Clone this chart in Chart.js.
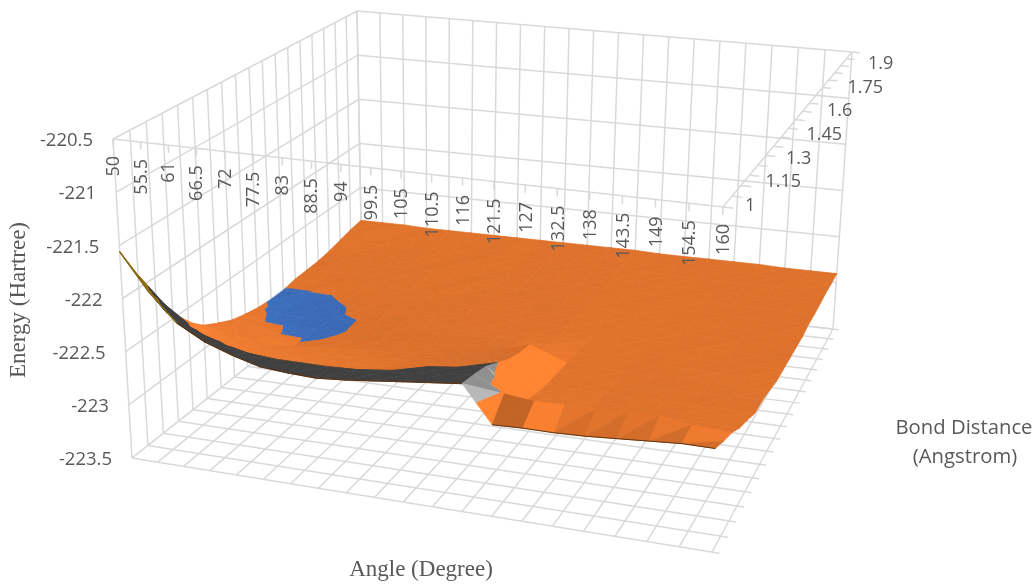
<!DOCTYPE html>
<html lang="en">
<head>
<meta charset="UTF-8">
<title>Energy surface</title>
<style>
    body { margin: 0; background: #fff; }
    #wrap { width: 1036px; height: 584px; }
</style>
<script src="https://cdn.jsdelivr.net/npm/chart.js"></script>
</head>
<body>
<div id="wrap"><canvas id="surface" width="1036" height="584"></canvas></div>
<script>
const angleLabels = ['50','55.5','61','66.5','72','77.5','83','88.5','94','99.5','105','110.5','116','121.5','127','132.5','138','143.5','149','154.5','160'];
const distanceValues = [1,1.05,1.1,1.15,1.2,1.25,1.3,1.35,1.4,1.45,1.5,1.55,1.6,1.65,1.7,1.75,1.8,1.85,1.9];
const distanceLabels = ['1','1.15','1.3','1.45','1.6','1.75','1.9'];
const energyTicks = [-223.5,-223,-222.5,-222,-221.5,-221,-220.5];

// energy (Hartree) per bond distance, one value per angle
const d100 = [-221.56,-221.90,-222.16,-222.30,-222.39,-222.46,-222.48,-222.49,-222.47,-222.44,-222.41,-222.38,-222.35,-222.68,-222.67,-222.67,-222.66,-222.64,-222.62,-222.60,-222.60];
const d105 = [-221.88,-222.20,-222.34,-222.43,-222.48,-222.50,-222.50,-222.50,-222.49,-222.47,-222.45,-222.42,-222.38,-222.52,-222.55,-222.54,-222.54,-222.53,-222.52,-222.56,-222.66];
const d110 = [-222.19,-222.42,-222.52,-222.58,-222.62,-222.64,-222.64,-222.63,-222.60,-222.55,-222.50,-222.47,-222.42,-222.70,-222.72,-222.74,-222.76,-222.76,-222.76,-222.74,-222.71];
const d115 = [-222.45,-222.60,-222.66,-222.70,-222.72,-222.74,-222.74,-222.73,-222.70,-222.66,-222.62,-222.57,-222.50,-222.82,-222.83,-222.84,-222.82,-222.81,-222.80,-222.79,-222.79];
const d120 = [-222.64,-222.72,-222.77,-222.80,-222.81,-222.82,-222.82,-222.81,-222.78,-222.74,-222.70,-222.65,-222.58,-222.86,-222.87,-222.88,-222.87,-222.86,-222.85,-222.85,-222.84];
const d125 = [-222.77,-222.82,-222.86,-222.88,-222.89,-222.89,-222.88,-222.87,-222.84,-222.80,-222.75,-222.69,-222.63,-222.89,-222.90,-222.91,-222.90,-222.90,-222.90,-222.90,-222.90];
const d130 = [-222.85,-222.89,-222.92,-222.99,-222.96,-222.94,-222.93,-222.91,-222.88,-222.85,-222.80,-222.74,-222.66,-222.90,-222.91,-222.92,-222.92,-222.91,-222.91,-222.90,-222.90];
const d135 = [-222.92,-222.95,-223.00,-223.01,-222.995,-222.965,-222.94,-222.92,-222.90,-222.88,-222.85,-222.81,-222.84,-222.91,-222.92,-222.93,-222.93,-222.92,-222.92,-222.92,-222.92];
const d140 = [-222.96,-223.01,-223.02,-223.02,-223.005,-222.98,-222.94,-222.92,-222.90,-222.89,-222.87,-222.86,-222.87,-222.92,-222.93,-222.94,-222.94,-222.94,-222.94,-222.94,-222.95];
const d145 = [-222.99,-223.03,-223.03,-223.015,-223.003,-222.97,-222.94,-222.93,-222.92,-222.91,-222.91,-222.90,-222.90,-222.92,-222.93,-222.94,-222.94,-222.95,-222.95,-222.95,-222.95];
const d150 = [-223.005,-223.03,-223.02,-223.005,-222.98,-222.95,-222.94,-222.93,-222.92,-222.92,-222.91,-222.91,-222.91,-222.92,-222.93,-222.94,-222.95,-222.95,-222.96,-222.96,-222.95];
const d155 = [-223.005,-223.005,-223.002,-222.985,-222.96,-222.95,-222.94,-222.93,-222.92,-222.92,-222.92,-222.91,-222.91,-222.92,-222.93,-222.94,-222.95,-222.95,-222.95,-222.95,-222.95];
const d160 = [-222.98,-222.985,-222.97,-222.96,-222.95,-222.94,-222.93,-222.93,-222.92,-222.92,-222.92,-222.91,-222.91,-222.92,-222.93,-222.94,-222.94,-222.95,-222.95,-222.95,-222.95];
const d165 = [-222.975,-222.97,-222.96,-222.95,-222.94,-222.93,-222.93,-222.92,-222.92,-222.92,-222.91,-222.91,-222.91,-222.92,-222.92,-222.93,-222.94,-222.94,-222.94,-222.94,-222.93];
const d170 = [-222.97,-222.96,-222.95,-222.94,-222.93,-222.92,-222.92,-222.92,-222.91,-222.91,-222.91,-222.91,-222.91,-222.91,-222.92,-222.92,-222.93,-222.93,-222.93,-222.93,-222.93];
const d175 = [-222.95,-222.95,-222.94,-222.93,-222.92,-222.92,-222.91,-222.91,-222.91,-222.91,-222.90,-222.90,-222.90,-222.91,-222.91,-222.92,-222.92,-222.92,-222.92,-222.92,-222.92];
const d180 = [-222.92,-222.92,-222.92,-222.92,-222.91,-222.91,-222.91,-222.90,-222.90,-222.90,-222.90,-222.90,-222.90,-222.90,-222.91,-222.91,-222.91,-222.91,-222.91,-222.91,-222.91];
const d185 = [-222.89,-222.89,-222.90,-222.90,-222.90,-222.90,-222.90,-222.89,-222.89,-222.89,-222.89,-222.89,-222.89,-222.90,-222.90,-222.90,-222.90,-222.90,-222.90,-222.90,-222.91];
const d190 = [-222.87,-222.87,-222.87,-222.88,-222.88,-222.88,-222.88,-222.88,-222.88,-222.88,-222.88,-222.88,-222.88,-222.89,-222.89,-222.89,-222.89,-222.89,-222.90,-222.90,-222.90];
const energyRows = [d100,d105,d110,d115,d120,d125,d130,d135,d140,d145,d150,d155,d160,d165,d170,d175,d180,d185,d190];

// box corners of the 3d view on screen, left / front / right / back
const floorCorners = [[132,458],[712,552],[833,329],[362,276]];
const topCorners = [[113,139],[723,207],[852,52],[357,11]];

const gridColor = '#d9d9d9';
const textColor = '#595959';
const bandColors = [[59,107,184],[222,114,44],[184,184,184],[122,92,16],[91,155,213],[112,173,71]];

function squareToQuad(q) {
    const [x0,y0] = q[0], [x1,y1] = q[1], [x2,y2] = q[2], [x3,y3] = q[3];
    const dx1 = x1-x2, dx2 = x3-x2, sx = x0-x1+x2-x3;
    const dy1 = y1-y2, dy2 = y3-y2, sy = y0-y1+y2-y3;
    const det = dx1*dy2-dx2*dy1;
    const g = (sx*dy2-dx2*sy)/det, h = (dx1*sy-sx*dy1)/det;
    const a = x1-x0+g*x1, b = x3-x0+h*x3, d = y1-y0+g*y1, e = y3-y0+h*y3;
    return (u,v) => {
        const w = g*u+h*v+1;
        return [(a*u+b*v+x0)/w, (d*u+e*v+y0)/w];
    };
}
const floorMap = squareToQuad(floorCorners);
const topMap = squareToQuad(topCorners);
const lastCol = angleLabels.length-1;
const lastRow = distanceValues.length-1;
const eMin = energyTicks[0], eMax = energyTicks[energyTicks.length-1];

// col, row are category positions, energy in Hartree
function project(col, row, energy) {
    const u = col/lastCol, v = row/lastRow, z = (energy-eMin)/(eMax-eMin);
    const f = floorMap(u,v), t = topMap(u,v);
    return {x: f[0]+(t[0]-f[0])*z, y: f[1]+(t[1]-f[1])*z};
}

const back = [];   // pushed back to front, chart.js paints first dataset last

function addLine(points, color, width) {
    back.push({data: points, showLine: true, fill: false, borderColor: color, borderWidth: width, pointRadius: 0, tension: 0});
}
function addPoly(points, color) {
    const closed = points.concat([points[0]]);
    back.push({data: closed, showLine: true, fill: 'shape', backgroundColor: color, borderColor: color, borderWidth: 0.7, pointRadius: 0, tension: 0});
}

// walls and floor
energyTicks.forEach(e => {
    addLine([project(0,0,e), project(0,lastRow,e), project(lastCol,lastRow,e)], gridColor, 1.5);
});
for (let j = 0; j <= lastCol; j++) {
    addLine([project(j,lastRow,eMin), project(j,lastRow,eMax)], gridColor, 1.5);
    addLine([project(j,0,eMin), project(j,lastRow,eMin)], gridColor, 1.5);
}
for (let i = 0; i <= lastRow; i++) {
    addLine([project(0,i,eMin), project(0,i,eMax)], gridColor, 1.5);
    addLine([project(0,i,eMin), project(lastCol+0.22,i,eMin)], gridColor, 1.5);
}
// axis lines with ticks
addLine([project(0,0,eMax), project(lastCol,0,eMax), project(lastCol,lastRow,eMax)], gridColor, 1.5);
for (let j = 0; j <= lastCol; j++) addLine([project(j,0,eMax), project(j,0,eMax-0.07)], gridColor, 1.5);
for (let i = 0; i <= lastRow; i++) addLine([project(lastCol,i,eMax), project(lastCol+0.3,i,eMax)], gridColor, 1.5);

function clipBand(poly, lo, hi) {
    const clip = (pts, keep, limit) => {
        const out = [];
        pts.forEach((p,k) => {
            const q = pts[(k+1)%pts.length];
            if (keep(p[2])) out.push(p);
            if (keep(p[2]) !== keep(q[2])) {
                const t = (limit-p[2])/(q[2]-p[2]);
                out.push([p[0]+(q[0]-p[0])*t, p[1]+(q[1]-p[1])*t, limit]);
            }
        });
        return out;
    };
    const a = clip(poly, e => e >= lo, lo);
    return a.length ? clip(a, e => e <= hi, hi) : a;
}

function triangleColor(band, dc, dr, col, row, lower) {
    if (band === 2 && col < 12) return '#404040';
    const drWeight = col < 8 ? 0.45 : 0.18;
    let f = Math.min(1.17, Math.max(0.86, 1-0.7*dc+drWeight*Math.abs(dr)));
    if (band === 1 && row === 0 && col >= 14 && lower) f *= 0.95;
    if (band === 1 && row === 0 && col === 13) f = 0.88;
    if (band === 1 && row === 0 && col === 14) f = 1.12;
    if (band === 2 && !lower) f = 0.78;
    if (band === 2 && lower) f = 1;
    const c = bandColors[band];
    return 'rgb(' + c.map(v => Math.min(255, Math.round(v*f))).join(',') + ')';
}

function addTriangle(tri, dc, dr, col, row, lower) {
    for (let b = 0; b < energyTicks.length-1; b++) {
        const part = clipBand(tri, energyTicks[b], energyTicks[b+1]);
        if (part.length > 2) addPoly(part.map(p => project(p[0],p[1],p[2])), triangleColor(b, dc, dr, col, row, lower));
    }
}

// surface, far rows first
for (let i = lastRow-1; i >= 0; i--) {
    for (let j = 0; j < lastCol; j++) {
        const e = energyRows;
        const a = [j,i,e[i][j]], b = [j+1,i,e[i][j+1]], c = [j+1,i+1,e[i+1][j+1]], d = [j,i+1,e[i+1][j]];
        addTriangle([a,c,d], c[2]-d[2], d[2]-a[2], j, i, false);
        addTriangle([a,b,c], b[2]-a[2], c[2]-b[2], j, i, true);
    }
}
// thin dark underside along the front edge
addLine(d100.slice(0,3).map((e,j) => project(j,0,e)), '#8a6a14', 1.5);
addLine(d100.slice(2,13).map((e,j) => project(j+2,0,e)), '#5e3410', 1.2);
addLine(d100.slice(13).map((e,j) => project(j+13,0,e)), '#5e3410', 1);

const axisText = {
    id: 'axisText',
    afterDatasetsDraw(chart) {
        const ctx = chart.ctx, sx = chart.scales.x, sy = chart.scales.y;
        const px = p => ({x: sx.getPixelForValue(p.x), y: sy.getPixelForValue(p.y)});
        ctx.save();
        ctx.fillStyle = textColor;
        ctx.font = '18.5px "Open Sans"';
        ctx.textAlign = 'right';
        ctx.textBaseline = 'middle';
        energyTicks.forEach(e => {
            const p = px(project(0,0,e));
            ctx.fillText(String(e), p.x-20, p.y+2);
        });
        ctx.font = '18px "Open Sans"';
        angleLabels.forEach((t,j) => {
            const p = px(project(j,0,eMax));
            ctx.save();
            ctx.translate(p.x+1, p.y+17);
            ctx.rotate(-Math.PI/2);
            ctx.fillText(t, 0, 0);
            ctx.restore();
        });
        ctx.textAlign = 'left';
        const b = px(project(lastCol,0,eMax)), c = px(project(lastCol,lastRow,eMax));
        distanceLabels.forEach((t,k) => {
            const f = k/(distanceLabels.length-1);
            ctx.fillText(t, b.x+(c.x-b.x)*f+22-6*f, b.y+(c.y-b.y)*f-1+13*f);
        });
        ctx.textAlign = 'center';
        ctx.font = '20.3px "Open Sans"';
        ctx.fillText('Bond Distance', 964, 428);
        ctx.fillText('(Angstrom)', 965, 457);
        ctx.font = '23px "Liberation Serif"';
        ctx.fillText('Angle (Degree)', 421, 570);
        ctx.translate(19, 300);
        ctx.rotate(-Math.PI/2);
        ctx.fillText('Energy (Hartree)', 0, 0);
        ctx.restore();
    }
};

new Chart(document.getElementById('surface'), {
    type: 'scatter',
    data: {datasets: back.reverse()},
    options: {
        responsive: false,
        animation: false,
        events: [],
        layout: {padding: 0},
        plugins: {legend: {display: false}, tooltip: {enabled: false}, title: {display: false}},
        scales: {
            x: {type: 'linear', min: 0, max: 1036, display: false},
            y: {type: 'linear', min: 0, max: 584, reverse: true, display: false}
        }
    },
    plugins: [axisText]
});
</script>
</body>
</html>
